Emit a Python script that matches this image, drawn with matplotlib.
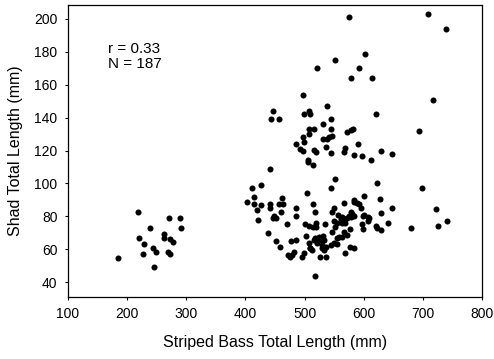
import matplotlib
matplotlib.use("Agg")
import matplotlib.pyplot as plt

plt.rcParams['font.family'] = ['Liberation Sans', 'DejaVu Sans']

# small fish (left group)
small_x = [185, 218, 220, 228, 226, 238, 244, 248, 245, 262, 263, 271, 269, 272, 273, 278, 290, 291]
small_y = [55, 82.5, 66.7, 63.2, 57.3, 72.9, 60.6, 58.5, 49, 69.3, 67, 78.8, 58.4, 57, 66.4, 64.4, 78.8, 72.8]

# large fish, upper / scattered part
upper_x = [575, 709, 739, 602, 551, 521, 592, 578, 614, 498, 717, 694, 629, 648,
           447, 444, 456, 507, 499, 509, 538, 621, 545, 532, 507, 516, 507, 545,
           572, 579, 582, 498, 499, 531, 538, 542, 547, 485, 536, 493, 497, 516,
           519, 544, 569, 567, 590, 583, 597, 613, 505, 506, 514, 442, 551, 411,
           427, 414, 461, 504, 545, 622, 698, 600, 628, 583, 722, 647, 741, 629,
           641, 680, 725, 629]
upper_y = [201, 203, 194, 179, 175, 170, 170, 164, 164, 154, 151, 132, 120, 118,
           144, 139, 139, 144, 142, 142, 147, 142, 139, 136, 133, 133, 130, 133,
           131.5, 132.4, 133, 128, 125, 127, 127, 128, 129, 124, 122, 121, 120, 120.5,
           119, 118.5, 121.5, 119, 124, 117.5, 116.5, 114.5, 114.4, 113, 111, 109, 103, 97,
           99, 92, 91, 94.5, 97, 100, 97, 92.5, 90.5, 90, 84.6, 85, 77, 82,
           76, 73, 74, 72]

# large fish, dense lower part
lower_x = [402, 415, 420, 427, 421, 441, 442, 456, 464, 460, 448, 451, 447, 438,
           452, 458, 470, 486, 485, 477, 485, 514, 517, 549, 547, 567, 556, 564,
           568, 561, 500, 507, 514, 520, 519, 534, 550, 555, 551, 547, 503, 517,
           524, 531, 533, 529, 523, 516, 555, 558, 564, 509, 530, 536, 529, 533,
           544, 550, 555, 508, 521, 482, 479, 472, 476, 499, 496, 510, 513, 526,
           537, 517, 564, 567, 584, 588, 592, 596, 578, 581, 575, 572, 584, 579,
           598, 600, 608, 607, 609, 569, 597, 620, 622, 576, 598, 572, 576, 584, 569]
lower_y = [88.9, 87.4, 84.1, 86.9, 78.1, 87.4, 84.9, 87.5, 87.5, 82.5, 80.4, 79.2, 79.2, 69.7,
           64.9, 61.6, 75.6, 84.9, 80.2, 65.2, 65.7, 87.4, 82.9, 85.3, 82.9, 88.0, 80.8, 79.8,
           78.4, 78.4, 75.4, 74.2, 73.4, 73.7, 76.0, 75.6, 77.4, 75.8, 73.7, 70.7, 68.1, 67.1,
           67.7, 68.3, 65.7, 65.7, 65.7, 65.7, 67.1, 67.7, 67.7, 61.0, 62.6, 61.6, 60.6, 59.6,
           62.6, 63.6, 63.0, 63.6, 63.6, 58.5, 56.5, 56.5, 55.5, 57.6, 55.5, 60.6, 59.6, 55.5,
           55.5, 43.6, 75.8, 70.7, 88.9, 88.1, 87.4, 85.3, 82.9, 81.3, 80.4, 79.2, 80.4, 79.6,
           80.4, 80.8, 79.6, 77.2, 78.8, 76.0, 75.6, 74.3, 72.8, 72.2, 72.4, 68.8, 61.2, 60.6, 57.8]

xs = small_x + upper_x + lower_x
ys = small_y + upper_y + lower_y

fig = plt.figure(figsize=(4.94, 3.59), dpi=100)
ax = fig.add_axes([68 / 494, 1 - 297 / 359, (482 - 68) / 494, (297 - 5) / 359])

ax.scatter(xs, ys, s=19, color='black', linewidths=0, zorder=3)

ax.set_xlim(100, 800)
ax.set_ylim(31, 208.5)
ax.set_xticks(range(100, 801, 100))
ax.set_yticks(range(40, 201, 20))
ax.tick_params(direction='out', length=2.5, width=0.8, labelsize=10, pad=5)
for sp in ax.spines.values():
    sp.set_linewidth(0.9)

ax.set_xlabel('Striped Bass Total Length (mm)', fontsize=11.5, labelpad=10)
ax.set_ylabel('Shad Total Length (mm)', fontsize=11.5, labelpad=8)

ax.text(168, 186, 'r = 0.33\nN = 187', fontsize=11, va='top', ha='left', linespacing=1.05)

fig.savefig('out.png', dpi=100)
